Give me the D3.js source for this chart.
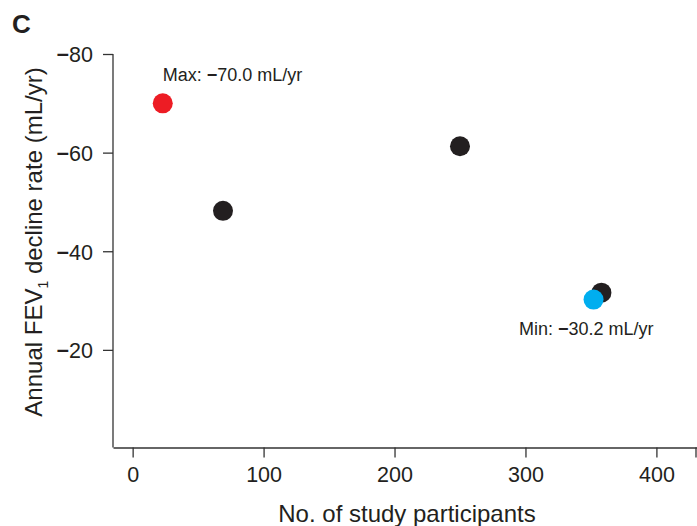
<!DOCTYPE html>
<html><head><meta charset="utf-8">
<script src="https://cdn.jsdelivr.net/npm/d3@7"></script>
<style>
body{margin:0;background:#fff;}
svg{display:block;font-family:"Liberation Sans",Arial,sans-serif;}
</style></head>
<body>
<svg id="chart" width="697" height="526"></svg>
<script>
// Data
const participants = [23, 69, 250, 358, 352];
const declineRate = [-70.0, -48.2, -61.3, -31.6, -30.2];
const pointKind = ["max", "other", "other", "other", "min"];
const xTicks = [0, 100, 200, 300, 400];
const yTicks = [-80, -60, -40, -20];
const xDomain = [-15, 431];
const yDomain = [0, -80];
const annotations = [
  {kind: "max", label: "Max: ", value: "70.0 mL/yr"},
  {kind: "min", label: "Min: ", value: "30.2 mL/yr"}
];

const colors = {max: "#ed1c24", min: "#00aeef", other: "#231f20"};
const svg = d3.select("#chart");
const axisColor = "#333";
const MINUS = "\u2212";

const x = d3.scaleLinear().domain(xDomain).range([113, 697]);
const y = d3.scaleLinear().domain(yDomain).range([448.5, 54]);

// Y axis
const yAxis = svg.append("g").attr("transform", "translate(113,0)")
  .call(d3.axisLeft(y).tickValues(yTicks).tickSize(10).tickSizeOuter(0).tickPadding(10).tickFormat(""));
yAxis.select(".domain").attr("d", `M0,${y(yTicks[0])}V${447.5}`);
yAxis.selectAll(".tick text").each(function(d) {
  const t = d3.select(this);
  t.append("tspan").text(MINUS).style("font-weight", "bold");
  t.append("tspan").text(Math.abs(d));
});
// X axis
const xAxis = svg.append("g").attr("transform", "translate(0,447.5)")
  .call(d3.axisBottom(x).tickValues(xTicks).tickSize(10).tickSizeOuter(0).tickPadding(9.5));
xAxis.append("line").attr("x1", x(xDomain[1]) - 1).attr("x2", x(xDomain[1]) - 1)
  .attr("y1", 0).attr("y2", 10).attr("stroke", axisColor);

[yAxis, xAxis].forEach(a => {
  a.selectAll("path,line").attr("stroke", axisColor).attr("stroke-width", 1.3);
  a.selectAll("text").attr("fill", "#231f20").style("font-size", "21.5px")
    .style("font-family", "'Liberation Sans',Arial,sans-serif");
});
yAxis.selectAll("text").attr("dy", "0.36em");

// Points
const pts = participants.map((p, i) => ({x: p, y: declineRate[i], kind: pointKind[i]}));
const order = ["other", "max", "min"];
svg.append("g").selectAll("circle")
  .data(pts.slice().sort((a, b) => order.indexOf(a.kind) - order.indexOf(b.kind)))
  .join("circle")
  .attr("cx", d => x(d.x)).attr("cy", d => y(d.y)).attr("r", 10)
  .attr("fill", d => colors[d.kind]);

// Annotations
annotations.forEach(a => {
  const p = pts.find(d => d.kind === a.kind);
  const t = svg.append("text").attr("fill", "#231f20").style("font-size", "18px");
  t.append("tspan").text(a.label);
  t.append("tspan").text(MINUS).style("font-weight", "bold");
  t.append("tspan").text(a.value);
  if (a.kind === "max") t.attr("x", x(p.x)).attr("y", y(p.y) - 22);
  else t.attr("x", x(p.x) - 74.5).attr("y", y(p.y) + 35.5);
});

// Axis titles
svg.append("text").attr("x", 407).attr("y", 522).attr("text-anchor", "middle")
  .attr("fill", "#231f20").style("font-size", "24px").text("No. of study participants");
const yt = svg.append("text").attr("transform", "translate(42,242) rotate(-90)")
  .attr("text-anchor", "middle").attr("fill", "#231f20").style("font-size", "24px");
yt.append("tspan").text("Annual FEV");
yt.append("tspan").text("1").attr("dy", 6).style("font-size", "14px");
yt.append("tspan").text(" decline rate (mL/yr)").attr("dy", -6);

// Panel letter
svg.append("text").attr("x", 12).attr("y", 33).attr("fill", "#231f20")
  .style("font-size", "26px").style("font-weight", "bold").text("C");
</script>
</body></html>
